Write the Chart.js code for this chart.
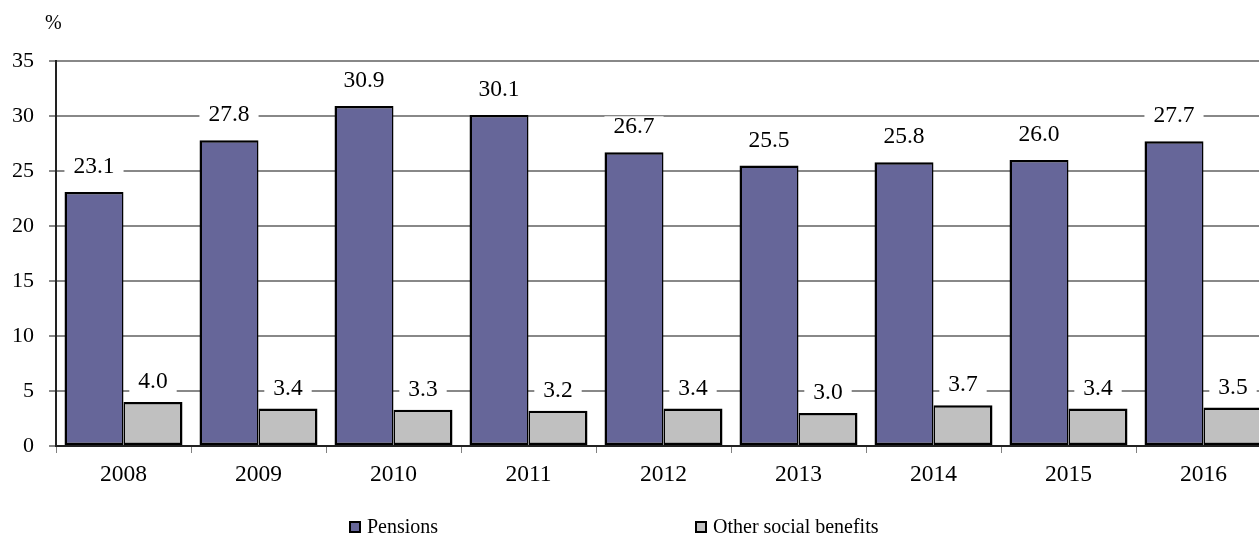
<!DOCTYPE html>
<html><head><meta charset="utf-8">
<script src="https://cdn.jsdelivr.net/npm/chart.js@4.4.1/dist/chart.umd.min.js"></script>
<style>
html,body{margin:0;padding:0;background:#fff;overflow:hidden;width:1259px;height:542px;position:relative;}
#wrap{position:absolute;left:0;top:0;width:1271px;height:542px;}
#pct{position:absolute;left:45px;top:11px;font:20px "Liberation Serif";color:#000;}
.leg{position:absolute;top:515px;font:20px "Liberation Serif";color:#000;display:flex;align-items:center;white-space:nowrap;}
.sw{display:inline-block;width:8px;height:8px;border:2px solid #000;margin-right:6px;}
</style></head><body>
<div id="wrap"><canvas id="c" width="1271" height="542"></canvas></div>
<div id="pct">%</div>
<div id="legend"></div>
<script>
const years = ['2008','2009','2010','2011','2012','2013','2014','2015','2016'];
const pensions = [23.1, 27.8, 30.9, 30.1, 26.7, 25.5, 25.8, 26.0, 27.7];
const otherBenefits = [4.0, 3.4, 3.3, 3.2, 3.4, 3.0, 3.7, 3.4, 3.5];
const seriesNames = ['Pensions', 'Other social benefits'];
const yMin = 0, yMax = 35, yStep = 5;

const colors = ['#666699', '#c0c0c0'];
const FONT = '"Liberation Serif", "Times New Roman", serif';

const valueLabels = {
  id: 'valueLabels',
  afterDatasetsDraw(chart, args, opts) {
    const ctx = chart.ctx;
    ctx.save();
    ctx.font = opts.size + 'px ' + FONT;
    ctx.textAlign = 'center';
    ctx.textBaseline = 'middle';
    chart.data.datasets.forEach((ds, di) => {
      const meta = chart.getDatasetMeta(di);
      meta.data.forEach((bar, i) => {
        const txt = ds.data[i].toFixed(1);
        const w = ctx.measureText(txt).width + 2 * opts.padX;
        const y = bar.y - opts.offsets[di];
        ctx.fillStyle = '#fff';
        ctx.fillRect(bar.x - w / 2, y - opts.boxH / 2, w, opts.boxH);
        ctx.fillStyle = '#000';
        ctx.fillText(txt, bar.x, y);
      });
    });
    ctx.restore();
  }
};

new Chart(document.getElementById('c'), {
  type: 'bar',
  data: {
    labels: years,
    datasets: [
      { label: seriesNames[0], data: pensions, backgroundColor: colors[0], borderColor: '#000',
        borderWidth: {top: 2.5, left: 2.5, bottom: 2.5, right: 1.5}, borderSkipped: false, inflateAmount: 0,
        categoryPercentage: 0.874, barPercentage: 1 },
      { label: seriesNames[1], data: otherBenefits, backgroundColor: colors[1], borderColor: '#000',
        borderWidth: {top: 2.5, left: 1.5, bottom: 2.5, right: 2.5}, borderSkipped: false, inflateAmount: 0,
        categoryPercentage: 0.874, barPercentage: 1 }
    ]
  },
  options: {
    responsive: false,
    animation: false,
    devicePixelRatio: 1,
    layout: { padding: { top: 61, bottom: 56, left: 0, right: 0 } },
    plugins: {
      legend: { display: false },
      tooltip: { enabled: false },
      valueLabels: { size: 23.5, padX: 9, boxH: 22, offsets: [25, 20] }
    },
    scales: {
      x: {
        ticks: { color: '#000', font: { family: FONT, size: 23.5 }, padding: 8 },
        grid: { offset: true, drawOnChartArea: false, drawTicks: true, tickLength: 7, color: '#808080', lineWidth: 1 },
        border: { color: '#222', width: 2 },
        afterFit(s) { s.height = 40; }
      },
      y: {
        min: yMin, max: yMax,
        ticks: { stepSize: yStep, color: '#000', font: { family: FONT, size: 22 }, padding: 15 },
        grid: { color: '#888', lineWidth: 2, tickLength: 7, drawTicks: true },
        border: { color: '#222', width: 2 },
        afterFit(s) { s.width = 56; }
      }
    }
  },
  plugins: [valueLabels]
});

// legend
const legendPos = [349, 695];
const legendEl = document.getElementById('legend');
seriesNames.forEach((name, i) => {
  const d = document.createElement('div');
  d.className = 'leg';
  d.style.left = legendPos[i] + 'px';
  const sw = document.createElement('span');
  sw.className = 'sw';
  sw.style.background = colors[i];
  d.appendChild(sw);
  d.appendChild(document.createTextNode(name));
  legendEl.appendChild(d);
});
</script>
</body></html>
